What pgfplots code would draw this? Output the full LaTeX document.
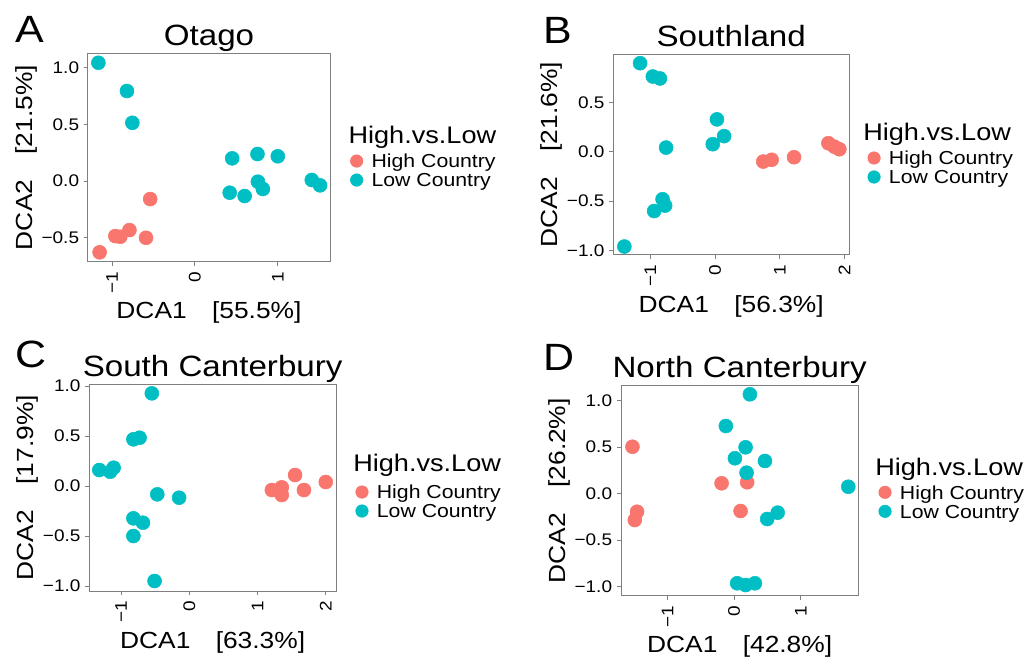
\documentclass[border=0pt]{standalone}
\usepackage{fontspec}
\setmainfont{Liberation Sans}[FakeStretch=1.13]
\usepackage{pgfplots}
\pgfplotsset{compat=1.18}
\definecolor{hi}{HTML}{F8766D}
\definecolor{lo}{HTML}{00BFC4}
\definecolor{frame}{HTML}{7F7F7F}
\pgfplotsset{
  dca/.style={
    scale only axis, anchor=south west, clip=false,
    axis line style={draw=frame, line width=0.75pt},
    tick style={draw=frame, line width=0.75pt},
    major tick length=3pt, tick align=outside,
    xtick pos=left, ytick pos=left,
    ticklabel style={font=\fontsize{12.6}{14}\selectfont, text=black},
    yticklabel style={anchor=east, inner ysep=0pt, inner xsep=3.5pt},
    xticklabel style={rotate=90, anchor=east, inner ysep=0pt, inner xsep=4.5pt},
    label style={font=\fontsize{17.5}{20}\selectfont},
    xlabel style={at={(axis description cs:0.5,0)}, anchor=base, yshift=-42.75pt},
    ylabel style={at={(axis description cs:0,0.5)}, anchor=south, inner ysep=38pt, inner xsep=0pt},
    title style={at={(axis description cs:0.5,1)}, anchor=base, yshift=0pt, font=\fontsize{22}{26}\selectfont},
    legend style={draw=none, fill=none, anchor=west, inner sep=0pt, outer sep=0pt,
      row sep=2.25pt, column sep=6.5pt, font=\fontsize{14.1}{16}\selectfont,
      nodes={inner sep=0pt, text height=11pt, text depth=1pt}},
    legend cell align=left,
  },
  hiP/.style={only marks, mark=*, mark size=5.25pt, color=hi,
    legend image code/.code={\draw[##1, mark size=4.7pt] plot coordinates {(0pt,0pt)};}},
  loP/.style={only marks, mark=*, mark size=5.25pt, color=lo,
    legend image code/.code={\draw[##1, mark size=4.7pt] plot coordinates {(0pt,0pt)};}},
}
\newcommand{\ltitle}{\fontsize{18}{20}\selectfont High.vs.Low}
\newcommand{\letter}[1]{\fontsize{28.5}{30}\selectfont #1}
\begin{document}
\begin{tikzpicture}
\path[use as bounding box] (0pt,0pt) rectangle (768pt,-494.25pt);

% Panel A
\begin{axis}[dca, at={(66pt,-196.3pt)}, width=181.5pt, height=156.3pt,
  xmin=-1.29, xmax=1.63, ymin=-0.711, ymax=1.125,
  xtick={-1,0,1}, xticklabels={−1,0,1},
  ytick={-0.5,0,0.5,1}, yticklabels={−0.5,0.0,0.5,1.0},
  title={Otago},
  xlabel={DCA1\hspace*{19pt}[55.5\%]}, ylabel={DCA2\hspace*{19pt}[21.5\%]},
  legend style={at={(axis description cs:1.0843,0.4376)}}]
\addplot[hiP] coordinates {(-0.54,-0.159) (-0.96,-0.485) (-0.90,-0.491) (-0.79,-0.432) (-0.59,-0.50) (-1.15,-0.628)};
\addlegendentry{High Country}
\addplot[loP] coordinates {(-1.165,1.042) (-0.82,0.793) (-0.755,0.513) (0.45,0.20) (0.755,0.238) (1.00,0.218) (0.42,-0.103) (0.60,-0.132) (0.76,-0.006) (0.82,-0.07) (1.41,0.009) (1.51,-0.038)};
\addlegendentry{Low Country}
\end{axis}

% Panel B
\begin{axis}[dca, at={(460pt,-191.25pt)}, width=176.8pt, height=150.5pt,
  xmin=-1.57, xmax=2.07, ymin=-1.046, ymax=0.99,
  xtick={-1,0,1,2}, xticklabels={−1,0,1,2},
  ytick={-1,-0.5,0,0.5}, yticklabels={−1.0,−0.5,0.0,0.5},
  title={Southland},
  xlabel={DCA1\hspace*{19pt}[56.3\%]}, ylabel={DCA2\hspace*{19pt}[21.6\%]},
  legend style={at={(axis description cs:1.0793,0.436)}}]
\addplot[hiP] coordinates {(0.745,-0.098) (0.875,-0.08) (1.22,-0.054) (1.75,0.088) (1.84,0.054) (1.92,0.027)};
\addlegendentry{High Country}
\addplot[loP] coordinates {(-1.157,0.90) (-0.96,0.765) (-0.85,0.745) (0.03,0.33) (0.14,0.16) (-0.035,0.078) (-0.756,0.044) (-0.81,-0.48) (-0.77,-0.545) (-0.94,-0.60) (-1.40,-0.96)};
\addlegendentry{Low Country}
\end{axis}

% Panel C
\begin{axis}[dca, at={(67pt,-443.25pt)}, width=185pt, height=155pt,
  xmin=-1.466, xmax=2.15, ymin=-1.05, ymax=1.017,
  xtick={-1,0,1,2}, xticklabels={−1,0,1,2},
  ytick={-1,-0.5,0,0.5,1}, yticklabels={−1.0,−0.5,0.0,0.5,1.0},
  title={South Canterbury},
  xlabel={DCA1\hspace*{19pt}[63.3\%]}, ylabel={DCA2\hspace*{19pt}[17.9\%]},
  legend style={at={(axis description cs:1.0799,0.433)}}]
\addplot[hiP] coordinates {(1.21,-0.04) (1.355,-0.013) (1.355,-0.09) (1.55,0.11) (1.68,-0.04) (2.0,0.04)};
\addlegendentry{High Country}
\addplot[loP] coordinates {(-0.55,0.927) (-0.82,0.467) (-0.73,0.483) (-1.32,0.16) (-1.16,0.143) (-1.11,0.183) (-0.47,-0.083) (-0.15,-0.117) (-0.82,-0.323) (-0.68,-0.367) (-0.82,-0.50) (-0.51,-0.95)};
\addlegendentry{Low Country}
\end{axis}

% Panel D
\begin{axis}[dca, at={(465.75pt,-446.8pt)}, width=178pt, height=157.5pt,
  xmin=-1.70, xmax=1.865, ymin=-1.097, ymax=1.161,
  xtick={-1,0,1}, xticklabels={−1,0,1},
  ytick={-1,-0.5,0,0.5,1}, yticklabels={−1.0,−0.5,0.0,0.5,1.0},
  title={North Canterbury},
  xlabel={DCA1\hspace*{19pt}[42.8\%]}, ylabel={DCA2\hspace*{19pt}[26.2\%]},
  legend style={at={(axis description cs:1.086,0.447)}}]
\addplot[hiP] coordinates {(-1.528,0.505) (-1.459,-0.194) (-1.493,-0.283) (-0.189,0.112) (0.195,0.123) (0.096,-0.186)};
\addlegendentry{High Country}
\addplot[loP] coordinates {(0.236,1.069) (-0.125,0.728) (0.171,0.499) (0.011,0.381) (0.462,0.352) (0.186,0.226) (1.714,0.075) (0.496,-0.272) (0.653,-0.204) (0.045,-0.963) (0.171,-0.982) (0.311,-0.963)};
\addlegendentry{Low Country}
\end{axis}

% legend titles
\node[anchor=base west, inner sep=0pt] at (261.2pt,-107.5pt) {\ltitle};
\node[anchor=base west, inner sep=0pt] at (647.25pt,-105.75pt) {\ltitle};
\node[anchor=base west, inner sep=0pt] at (264.75pt,-353.25pt) {\ltitle};
\node[anchor=base west, inner sep=0pt] at (656.25pt,-356.25pt) {\ltitle};

% panel letters
\node[anchor=base west, inner sep=0pt] at (11.25pt,-32.25pt) {\letter{A}};
\node[anchor=base west, inner sep=0pt] at (407.25pt,-32.5pt) {\letter{B}};
\node[anchor=base west, inner sep=0pt] at (11.25pt,-275.5pt) {\letter{C}};
\node[anchor=base west, inner sep=0pt] at (407.25pt,-277.5pt) {\letter{D}};
\end{tikzpicture}
\end{document}
